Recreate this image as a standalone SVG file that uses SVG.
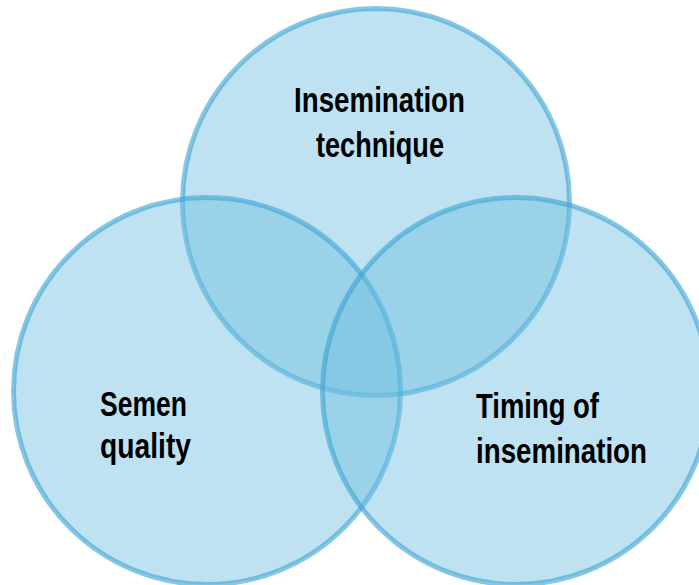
<svg xmlns="http://www.w3.org/2000/svg" width="699" height="585" viewBox="0 0 699 585">
<style>
.c{fill:#6fbfe0;fill-opacity:0.45;stroke:#3fa5d4;stroke-opacity:0.62;stroke-width:5}
.t{font-family:"Liberation Sans",Arial,sans-serif;font-weight:bold;font-size:35px;fill:#000}
</style>
<rect width="699" height="585" fill="#fff"/>
<g id="node-technique">
<circle class="c" cx="376" cy="202" r="193.5"/>
</g>
<g id="node-semen">
<circle class="c" cx="207" cy="391" r="193.5"/>
</g>
<g id="node-timing">
<circle class="c" cx="516" cy="391" r="193.5"/>
</g>
<g id="labels">
<text class="t" x="294" y="112" textLength="171" lengthAdjust="spacingAndGlyphs">Insemination</text>
<text class="t" x="316" y="157" textLength="128" lengthAdjust="spacingAndGlyphs">technique</text>
<text class="t" x="100" y="416" textLength="87" lengthAdjust="spacingAndGlyphs">Semen</text>
<text class="t" x="100" y="458" textLength="91" lengthAdjust="spacingAndGlyphs">quality</text>
<text class="t" x="476" y="418" textLength="123" lengthAdjust="spacingAndGlyphs">Timing of</text>
<text class="t" x="476" y="463" textLength="171" lengthAdjust="spacingAndGlyphs">insemination</text>
</g>
<g id="connectors"></g>
</svg>
